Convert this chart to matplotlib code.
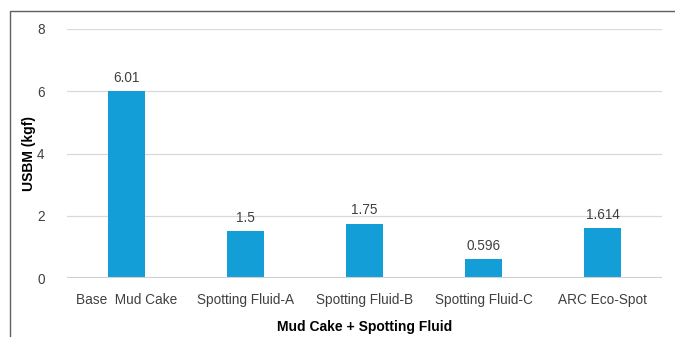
import matplotlib.pyplot as plt
from matplotlib.patches import Rectangle

plt.rcParams['font.family'] = ['Liberation Sans', 'DejaVu Sans']

# USBM values per sample
samples = ['Base  Mud Cake', 'Spotting Fluid-A', 'Spotting Fluid-B',
           'Spotting Fluid-C', 'ARC Eco-Spot']
usbm = [6.01, 1.5, 1.75, 0.596, 1.614]
value_labels = ['6.01', '1.5', '1.75', '0.596', '1.614']

fig = plt.figure(figsize=(6.75, 3.37), dpi=100)
ax = fig.add_axes([0.099, 0.175, 0.882, 0.739])

x = range(len(samples))
ax.bar(x, usbm, width=0.31, color='#149ed8', zorder=3)
for xi, v, lab in zip(x, usbm, value_labels):
    ax.text(xi, v + 0.2, lab, ha='center', va='bottom', fontsize=9.8, color='#404040')

ax.set_xlim(-0.5, len(samples) - 0.5)
ax.set_ylim(0, 8)
ax.set_yticks([0, 2, 4, 6, 8])
ax.set_xticks(list(x))
ax.set_xticklabels(samples)
ax.grid(axis='y', color='#d9d9d9', linewidth=0.9, zorder=0)
ax.axhline(0, color='#d0d0d0', linewidth=1.5, zorder=4)
for s in ax.spines.values():
    s.set_visible(False)
ax.tick_params(length=0, labelsize=9.8, colors='#404040')
ax.tick_params(axis='x', pad=10.5)
ax.tick_params(axis='y', pad=16)
ax.set_ylabel('USBM (kgf)', fontsize=10, fontweight='bold', labelpad=1)
ax.set_xlabel('Mud Cake + Spotting Fluid', fontsize=10, fontweight='bold', labelpad=10)

# outer frame line on top and left
fig.patches.append(Rectangle((10 / 675, -0.1), 1.2, 1 - 11 / 337 + 0.1,
                             transform=fig.transFigure, fill=False,
                             edgecolor='#606060', linewidth=1.0))

fig.savefig('out.png', dpi=100)
